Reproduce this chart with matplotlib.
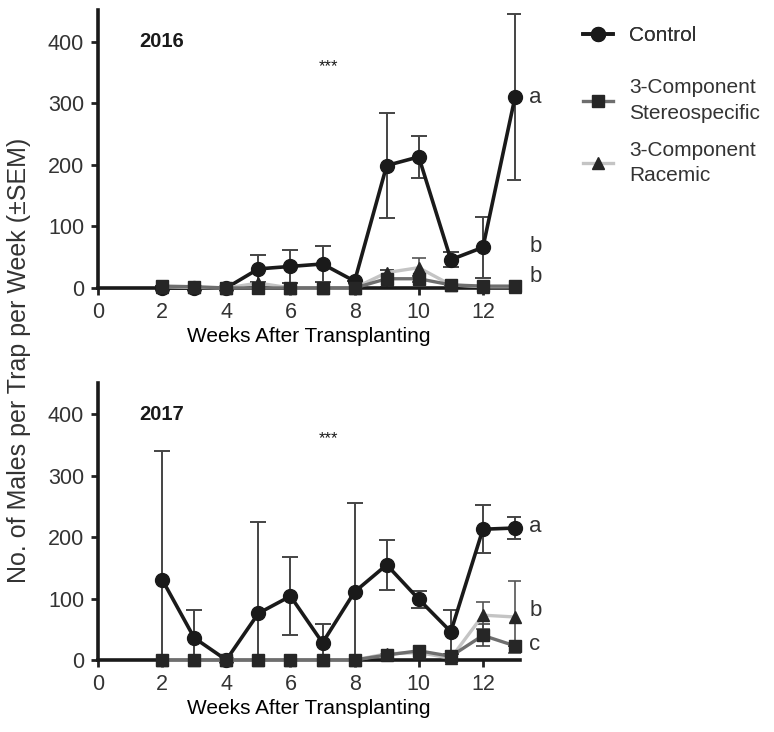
import numpy as np
import matplotlib
matplotlib.use("Agg")
import matplotlib.pyplot as plt

plt.rcParams['font.family'] = ['Liberation Sans', 'DejaVu Sans']
plt.rcParams['text.color'] = '#333333'
plt.rcParams['xtick.color'] = '#222222'
plt.rcParams['ytick.color'] = '#222222'
plt.rcParams['xtick.labelcolor'] = '#333333'
plt.rcParams['ytick.labelcolor'] = '#333333'

weeks = [2, 3, 4, 5, 6, 7, 8, 9, 10, 11, 12, 13]

# 2016
control_2016 = [0, 0, 0, 31, 35, 39, 11, 199, 213, 46, 66, 310]
control_2016_sem = [0, 0, 0, 22, 27, 30, 0, 85, 34, 12, 49, 135]
stereo_2016 = [3, 2, 0, 0, 0, 0, 0, 15, 15, 5, 3, 3]
stereo_2016_sem = [0, 0, 0, 0, 0, 0, 0, 14, 5, 0, 0, 0]
racemic_2016 = [2, 1, 0, 8, 0, 0, 0, 25, 33, 5, 2, 2]
racemic_2016_sem = [0, 0, 0, 0, 0, 0, 0, 5, 16, 0, 0, 0]
letters_2016 = [('a', 310), ('b', 68), ('b', 18)]

# 2017
control_2017 = [131, 36, 0, 76, 104, 28, 111, 155, 99, 46, 213, 215]
control_2017_sem = [209, 46, 0, 149, 63, 31, 144, 41, 14, 36, 39, 18]
stereo_2017 = [0, 0, 0, 0, 0, 0, 0, 8, 15, 6, 40, 23]
stereo_2017_sem = [0, 0, 0, 0, 0, 0, 0, 0, 0, 0, 18, 0]
racemic_2017 = [0, 0, 0, 0, 0, 0, 0, 10, 12, 3, 73, 70]
racemic_2017_sem = [0, 0, 0, 0, 0, 0, 0, 0, 0, 0, 22, 58]
letters_2017 = [('a', 218), ('b', 80), ('c', 25)]

series_names = ['Control', '3-Component\nStereospecific', '3-Component\nRacemic']

fig = plt.figure(figsize=(7.74, 7.32), dpi=100)
ax1 = fig.add_axes([0.1266, 0.6066, 0.545, 0.38])
ax2 = fig.add_axes([0.1266, 0.0984, 0.545, 0.379])


def draw_panel(ax, year, ctrl, ctrl_sem, st, st_sem, rc, rc_sem, letters):
    # error bars (upper and lower, clipped at the axis)
    ax.errorbar(weeks, ctrl, yerr=ctrl_sem, fmt='none', ecolor='#444444',
                elinewidth=1.4, capsize=6, capthick=1.4, zorder=2)
    ax.errorbar(weeks, rc, yerr=rc_sem, fmt='none', ecolor='#555555',
                elinewidth=1.2, capsize=5, capthick=1.2, zorder=2)
    ax.errorbar(weeks, st, yerr=st_sem, fmt='none', ecolor='#444444',
                elinewidth=1.2, capsize=5, capthick=1.2, zorder=2)

    ax.plot(weeks, ctrl, color='#1a1a1a', lw=2.6, marker='o', ms=10,
            mfc='#1a1a1a', mec='#1a1a1a', clip_on=False, zorder=3,
            label=series_names[0])
    ax.plot(weeks, rc, color='#c4c4c4', lw=2.4, marker='^', ms=9,
            mfc='#262626', mec='#262626', clip_on=False, zorder=4,
            label=series_names[2])
    ax.plot(weeks, st, color='#6e6e6e', lw=2.4, marker='s', ms=9,
            mfc='#262626', mec='#262626', clip_on=False, zorder=5,
            label=series_names[1])

    ax.set_xlim(0, 13.15)
    ax.set_ylim(0, 452)
    ax.set_xticks([0, 2, 4, 6, 8, 10, 12])
    ax.set_yticks([0, 100, 200, 300, 400])
    ax.tick_params(labelsize=15.5, width=2, length=5, pad=5)
    for side in ['top', 'right']:
        ax.spines[side].set_visible(False)
    for side in ['left', 'bottom']:
        ax.spines[side].set_linewidth(2.6)
        ax.spines[side].set_color('#1a1a1a')
    ax.set_xlabel('Weeks After Transplanting', fontsize=15, labelpad=3)

    ax.text(1.3, 400, year, fontsize=14.5, fontweight='bold', va='center',
            color='#1a1a1a')
    ax.text(7.2, 360, '***', fontsize=12, ha='center', va='center',
            color='#1a1a1a')
    for letter, yv in letters:
        ax.text(13.45, yv, letter, fontsize=16, va='center', clip_on=False)


draw_panel(ax1, '2016', control_2016, control_2016_sem, stereo_2016,
           stereo_2016_sem, racemic_2016, racemic_2016_sem, letters_2016)
draw_panel(ax2, '2017', control_2017, control_2017_sem, stereo_2017,
           stereo_2017_sem, racemic_2017, racemic_2017_sem, letters_2017)

fig.text(0.024, 0.508, 'No. of Males per Trap per Week (\u00b1SEM)',
         rotation=90, fontsize=18, ha='center', va='center')

handles, labels = ax1.get_legend_handles_labels()
leg_kw = dict(loc='upper left', frameon=False, fontsize=15, handlelength=1.45,
              handletextpad=0.8)
leg1 = fig.legend([handles[0]], [labels[0]], bbox_to_anchor=(0.7285, 0.99),
                  **leg_kw)
leg2 = fig.legend([handles[2], handles[1]], [labels[2], labels[1]],
                  bbox_to_anchor=(0.7285, 0.919), labelspacing=0.85, **leg_kw)
fig.add_artist(leg1)
for t in leg2.get_texts():
    t.set_linespacing(1.45)

fig.savefig('out.png', dpi=100)
